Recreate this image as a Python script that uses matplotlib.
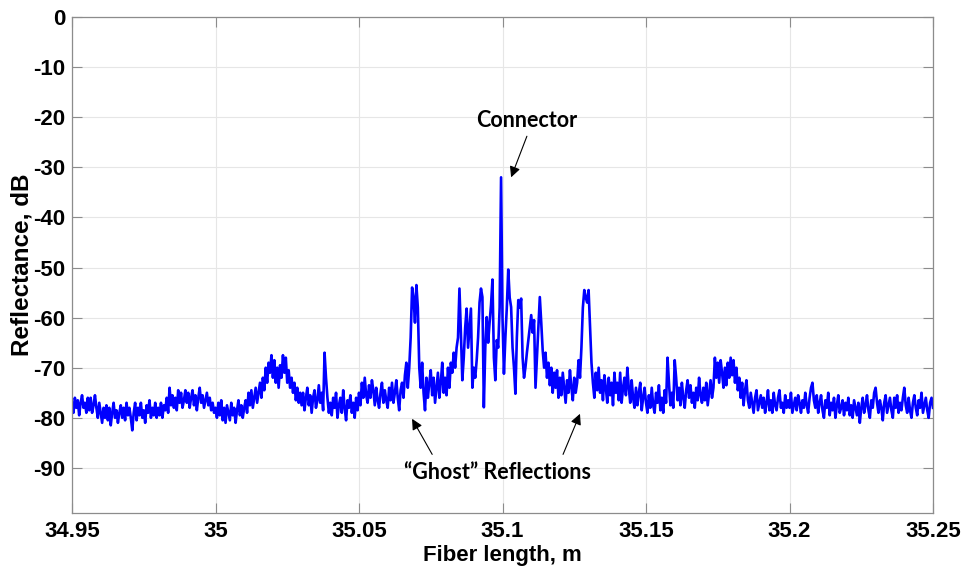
import numpy as np
import matplotlib
matplotlib.use("Agg")
import matplotlib.pyplot as plt

# OFDR reflectance trace around a fiber connector, sampled every 0.5 mm
start_m = 34.95
stop_m = 35.25

reflectance_db = [
    # 34.950
    -77, -79, -76, -78, -76.5, -79.5, -77, -75.5, -78, -77, -79, -76, -78.5, -76, -79, -77.5, -75.5, -78, -80, -77,
    # 34.960
    -79, -81, -78, -80, -77.5, -80.5, -78, -81.5, -79, -77, -80, -78.5, -81, -79, -77.5, -80, -78, -80.5, -77, -79.5,
    # 34.970
    -78, -80, -82.5, -79, -77, -80.5, -78, -79.5, -77, -80, -78.5, -81, -77.5, -79, -76.5, -80, -78, -79.5, -77, -80,
    # 34.980
    -78, -79.5, -77, -80, -77.5, -78.5, -76, -79, -74, -77.5, -75.5, -78, -76, -78.5, -74.5, -77, -75, -78, -76.5, -74.5,
    # 34.990
    -77, -75, -78, -76, -74.5, -77.5, -75.5, -78.5, -76, -74, -77, -75.5, -78, -76.5, -75, -77.5, -76, -78.5, -77, -79,
    # 35.000
    -78, -80, -77, -79.5, -76.5, -80.5, -78, -81, -77.5, -79, -80.5, -77, -79.5, -78, -81, -78.5, -76.5, -79.5, -77.5, -80,
    # 35.010
    -78, -76.5, -79, -75, -77.5, -74.5, -78, -76, -74, -77, -75, -73, -76, -72, -74.5, -70, -73, -69, -71, -67.5,
    # 35.020
    -72, -68.5, -73, -70, -74, -69.5, -72, -67.5, -71, -68, -73, -70.5, -74, -72, -75, -73, -76.5, -74, -77, -75,
    # 35.030
    -77.5, -75, -78.5, -76, -74, -77.5, -75.5, -79, -76, -74.5, -78, -76.5, -73.5, -77, -75, -78.5, -67, -72, -76, -79,
    # 35.040
    -77, -79.5, -76, -78, -75, -80, -77.5, -76, -79, -74.5, -78, -80.5, -76.5, -78, -75.5, -79, -77, -80, -76, -78.5,
    # 35.050
    -75, -77.5, -73, -76, -72, -75.5, -77, -73.5, -76, -72.5, -74.5, -77.5, -74, -76.5, -78, -75, -73, -77, -74.5, -76.5,
    # 35.060
    -78, -74, -76.5, -73, -77, -75, -72.5, -76, -78.5, -74.5, -73, -76, -71.5, -69, -74, -70, -64, -54, -56, -61,
    # 35.070
    -53.5, -58, -70, -74, -69, -75, -78.5, -72, -76, -73, -70.5, -75.5, -72, -77, -74, -71, -76, -73, -69, -75,
    # 35.080
    -72, -75.5, -70, -74, -69, -71, -67, -70, -66, -64, -54.2, -63, -72.5, -68, -62, -58.2, -66, -62, -58.2, -74,
    # 35.090
    -70, -72, -68.5, -63.9, -57, -54.2, -55.9, -77.9, -66, -59.9, -65, -61, -57.5, -52.4, -68, -72.5, -64.5, -66, -58, -32,
    # 35.100
    -60, -71.2, -64, -58, -50.4, -56, -57.9, -66, -70, -75.2, -64, -56.5, -58, -56.2, -67.9, -72, -69.9, -67, -64.5, -62,
    # 35.110
    -59.5, -63, -60.5, -74, -68, -62, -55.9, -61, -66.5, -70, -67, -72, -69, -73.5, -70, -75, -71, -74, -70.5, -76,
    # 35.120
    -72, -75.5, -71, -74, -77, -72.5, -75, -70.5, -74, -76.5, -72, -75, -73, -68.5, -72, -66, -58, -54.5, -56, -57,
    # 35.130
    -54.5, -62, -69, -73, -76, -71, -74.5, -70, -75, -72.5, -76.5, -71.5, -74, -77, -72, -75.5, -73, -77.5, -71, -75,
    # 35.140
    -73, -76.5, -71, -77, -74, -72, -75.5, -70, -74, -77, -72.5, -76, -78, -74, -77.5, -75, -73, -78.5, -76, -74,
    # 35.150
    -77, -79, -75.5, -78, -74, -77.5, -79, -75, -77, -73.5, -78.5, -76, -79, -74.5, -77, -68, -73, -77.5, -75, -78,
    # 35.160
    -68.5, -72, -76.5, -74, -77.5, -73, -76, -78, -74.5, -72.5, -76, -73.5, -77, -75, -78, -74, -76.5, -72, -75.5, -77,
    # 35.170
    -74, -76.5, -73, -77.5, -75, -72.5, -76, -74, -68, -72, -69, -73, -68.5, -71, -74, -70, -73.5, -69, -72, -68,
    # 35.180
    -71.5, -68.5, -73, -70, -74.5, -72, -76, -73, -77.5, -74.5, -72.5, -76.5, -78, -75, -77, -79, -76, -74.5, -78.5, -77,
    # 35.190
    -75.5, -78, -76, -79, -77, -74.5, -78.5, -76.5, -79, -75, -77.5, -78.5, -76, -74.5, -78, -77, -79, -75.5, -78, -76.5,
    # 35.200
    -78, -75, -79, -77.5, -76, -78.5, -75.5, -77, -79, -76.5, -78, -75, -77.5, -79, -76, -74, -73, -76.5, -78, -75.5,
    # 35.210
    -79, -77, -75.5, -78.5, -80, -76.5, -78, -75, -79.5, -77, -78.5, -76, -80, -77.5, -75.5, -79, -78, -76.5, -79.5, -77,
    # 35.220
    -78.5, -76, -79.5, -77.5, -80, -76.5, -78, -79.5, -77, -81, -78, -76, -79, -77.5, -75.5, -78.5, -80, -76.5, -78, -75,
    # 35.230
    -74, -77, -79, -76.5, -78, -80.5, -77, -75.5, -79, -77.5, -76, -78.5, -80, -76, -78, -75.5, -79, -77, -78.5, -76,
    # 35.240
    -74, -77.5, -79, -76, -78.5, -80, -77, -75.5, -78, -79.5, -76.5, -78, -75, -79, -77.5, -76, -78.5, -80, -77, -76,
    # 35.250
    -78,
]

x_ticks = [34.95, 35.0, 35.05, 35.1, 35.15, 35.2, 35.25]
x_tick_labels = ["34.95", "35", "35.05", "35.1", "35.15", "35.2", "35.25"]
y_ticks = [0, -10, -20, -30, -40, -50, -60, -70, -80, -90]
y_tick_labels = [str(v) for v in y_ticks]

length_m = np.linspace(start_m, stop_m, len(reflectance_db))
refl = np.array(reflectance_db)

plt.rcParams["font.family"] = ["Liberation Sans", "DejaVu Sans"]
fig = plt.figure(figsize=(9.64, 5.69), dpi=100)
ax = fig.add_axes([72 / 964, 1 - 513 / 569, (933 - 72) / 964, (513 - 17) / 569])

ax.plot(length_m, refl, color="#0000ff", lw=1.9)

ax.set_xlim(start_m, stop_m)
ax.set_ylim(-99, 0)
ax.set_xticks(x_ticks)
ax.set_xticklabels(x_tick_labels)
ax.set_yticks(y_ticks)
ax.set_yticklabels(y_tick_labels)

ax.grid(True, color="#e6e6e6", lw=0.8)
ax.set_axisbelow(True)
for s in ax.spines.values():
    s.set_color("#8c8c8c")
    s.set_linewidth(0.9)
ax.tick_params(direction="in", length=7, width=0.8, color="#8c8c8c",
               top=True, right=True, labelsize=16, pad=6)
ax.tick_params(axis="y", pad=5)
for lab in ax.get_xticklabels() + ax.get_yticklabels():
    lab.set_fontweight("bold")

ax.set_xlabel("Fiber length, m", fontsize=16, fontweight="bold", labelpad=2)
ax.set_ylabel("Reflectance, dB", fontsize=17.5, fontweight="bold")
ax.yaxis.set_label_coords(-0.045, 0.5)

# Annotations
note_font = dict(family=["Lato", "DejaVu Sans"], fontweight="bold", fontsize=15.5, color="black")
arrow = dict(arrowstyle="-|>", color="black", lw=0.8, mutation_scale=16, shrinkA=0, shrinkB=0)

peak = int(np.argmax(refl))
ax.text(35.1085, -20.6, "Connector", ha="center", va="center", **note_font)
ax.annotate("", xy=(length_m[peak] + 0.0035, refl[peak]), xytext=(35.1085, -23.8),
            arrowprops=arrow)

ax.text(35.0983, -91.0, "\u201cGhost\u201d Reflections", ha="center", va="center", **note_font)
ax.annotate("", xy=(35.0685, -80.2), xytext=(35.0755, -87.3), arrowprops=arrow)
ax.annotate("", xy=(35.1270, -79.2), xytext=(35.1211, -87.3), arrowprops=arrow)

fig.savefig("out.png", dpi=100)
